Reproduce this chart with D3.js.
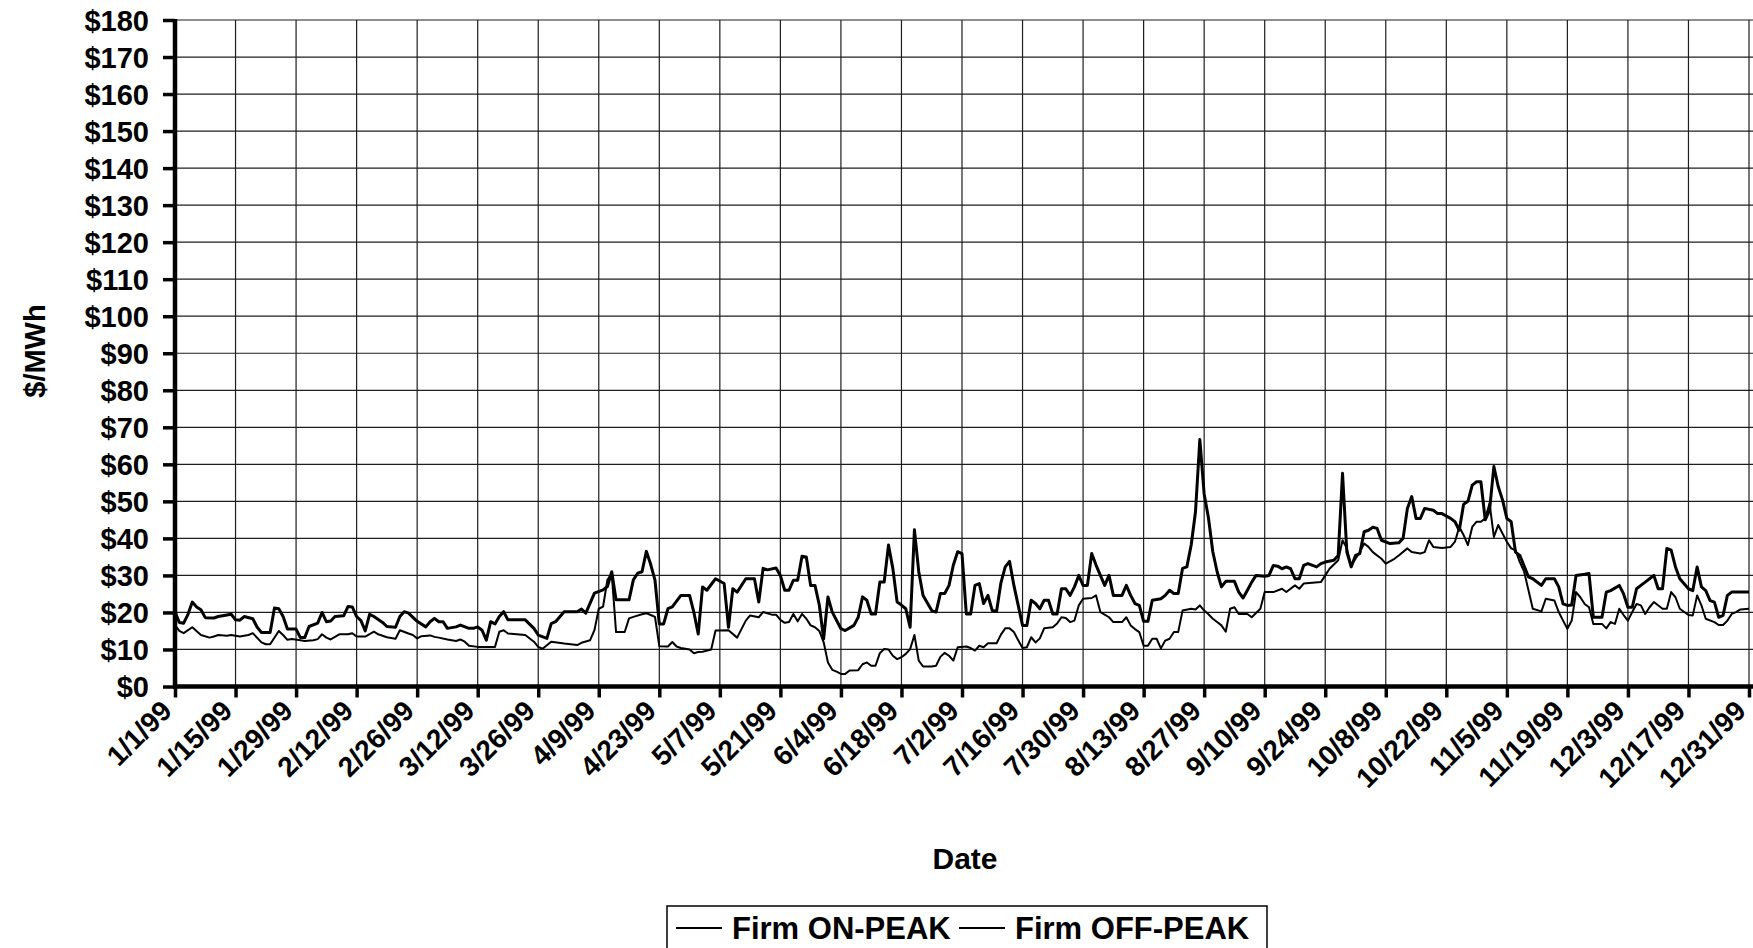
<!DOCTYPE html>
<html><head><meta charset="utf-8">
<script src="https://cdn.jsdelivr.net/npm/d3@7"></script>
<style>
body{margin:0;background:#fff}
svg{display:block}
text{font-family:"Liberation Sans",Arial,Helvetica,sans-serif;font-weight:bold;fill:#000}
</style>
</head><body>
<svg id="chart" width="1753" height="948"></svg>
<script>
// ---- data (day offset from 1/1/99, $/MWh) ----
const tickLabels = ["1/1/99","1/15/99","1/29/99","2/12/99","2/26/99","3/12/99","3/26/99","4/9/99","4/23/99","5/7/99","5/21/99","6/4/99","6/18/99","7/2/99","7/16/99","7/30/99","8/13/99","8/27/99","9/10/99","9/24/99","10/8/99","10/22/99","11/5/99","11/19/99","12/3/99","12/17/99","12/31/99"];
const yTickValues = [0,10,20,30,40,50,60,70,80,90,100,110,120,130,140,150,160,170,180];
const seriesNames = ["Firm ON-PEAK","Firm OFF-PEAK"];
const onPeak = [[0,20.2],[1,17.3],[2,17.1],[3,19.5],[4,22.8],[5,21.5],[6,20.7],[7,18.6],[9,18.5],[10,18.9],[13,19.5],[14,18],[15,17.9],[16,18.9],[18,18.3],[19,16],[20,14.6],[22,14.6],[23,21.2],[24,21],[25,18.9],[26,15.5],[28,15.5],[29,13.2],[30,13.2],[31,16.2],[33,17.1],[34,20],[35,17.5],[36,17.7],[37,18.9],[39,19.1],[40,21.6],[41,21.5],[42,18.9],[43,17.8],[44,15],[45,19.5],[46,18.9],[48,17.3],[49,16.2],[51,16],[52,18.9],[53,20.2],[54,19.8],[56,17.6],[58,16.1],[59,17.5],[60,18.4],[61,17.5],[62,17.5],[63,15.7],[65,16.1],[66,16.6],[68,15.7],[69,15.7],[70,16.1],[71,15.2],[72,12.5],[73,17.5],[74,16.9],[75,18.9],[76,20.2],[77,18],[81,18],[83,15.7],[84,13.9],[86,13],[87,17],[88,17.5],[90,20.2],[93,20.2],[94,20.9],[95,19.8],[96,22.5],[97,25.2],[99,26.1],[100,27],[101,31],[102,23.4],[105,23.4],[106,28.8],[107,30.6],[108,31],[109,36.5],[110,33],[111,28.7],[112,16.9],[113,16.9],[114,21],[115,21.5],[117,24.6],[119,24.6],[120,20],[121,14.2],[122,26.9],[123,26],[125,29.1],[127,27.8],[128,16],[129,26.4],[130,25.5],[132,29.1],[134,29.1],[135,22.8],[136,31.9],[137,31.5],[139,32],[140,30],[141,26],[142,26],[143,28.7],[144,28.7],[145,35.2],[146,35],[147,27.3],[148,27.3],[149,22],[150,12.9],[151,24.2],[152,20.1],[154,15.6],[155,15.1],[157,16.5],[158,18.7],[159,24.2],[160,23.3],[161,19.6],[162,19.6],[163,28.2],[164,28.2],[165,38.2],[166,31.9],[167,22.8],[168,22],[169,21],[170,16],[171,42.3],[172,31],[173,24.6],[175,20.5],[176,20.1],[177,25.1],[178,25.1],[179,27.3],[180,32.8],[181,36.4],[182,35.9],[183,19.6],[184,19.6],[185,27.3],[186,27.8],[187,22.4],[188,24.6],[189,20.5],[190,20.3],[191,28],[192,32.3],[193,33.8],[194,27.3],[195,21.9],[196,16.5],[197,16.5],[198,23.3],[199,22.4],[200,21],[201,23.3],[202,23.3],[203,19.6],[204,19.6],[205,26.4],[206,26.4],[207,24.6],[208,26.9],[209,30],[210,27.3],[211,27.3],[212,35.9],[213,32.8],[214,30],[215,27.3],[216,30],[217,24.6],[219,24.6],[220,27.3],[221,24.6],[222,22.4],[223,21.9],[224,17.6],[225,17.6],[226,23.3],[228,23.7],[229,24.6],[230,26],[231,25.1],[232,25.1],[233,31.9],[234,32.3],[235,38.2],[236,47.2],[237,66.7],[238,52],[239,45.5],[240,36.4],[241,31],[242,26.9],[243,28.4],[245,28.4],[246,25.5],[247,23.9],[248,26],[249,28.2],[250,30],[252,29.8],[253,30],[254,32.7],[255,32.5],[256,31.8],[257,32.3],[258,31.8],[259,29.1],[260,29.1],[261,32.7],[262,33.2],[264,32.3],[265,33.2],[266,33.6],[268,34.1],[269,35.4],[270,57.6],[271,36.3],[272,32.3],[273,35.4],[274,35.9],[275,41.8],[276,42.2],[277,43],[278,42.7],[279,39.5],[281,38.6],[283,38.8],[284,40],[285,48.1],[286,51.3],[287,45.4],[288,45.4],[289,48.1],[291,47.6],[292,46.7],[293,46.7],[295,45.4],[296,44.5],[297,42.2],[298,49.2],[299,50],[300,54.4],[301,55.3],[302,55.3],[303,45],[304,47.6],[305,59.4],[306,54],[307,50.4],[308,45.4],[309,44.5],[310,36.3],[311,35.4],[313,29.6],[314,29.1],[316,27.3],[317,29.1],[319,29.1],[320,26.9],[321,22.3],[322,21.9],[323,22],[324,30],[326,30.3],[327,30.5],[328,18.7],[330,18.7],[331,25.5],[332,25.9],[334,27.3],[335,25],[336,21.4],[337,21.4],[338,26.4],[339,27.3],[340,28.2],[341,29.1],[342,30],[343,26.4],[344,26.4],[345,37.3],[346,36.8],[347,32.3],[348,29.1],[350,26.4],[351,25.9],[352,32.3],[353,26.9],[354,25.9],[355,23.2],[356,22.8],[357,18.7],[358,19.2],[359,24.6],[360,25.5],[364,25.5]];
const offPeak = [[0,16.6],[1,15],[2,14.4],[4,16],[6,13.9],[8,13.2],[9,13.5],[10,13.9],[12,13.7],[13,13.9],[15,13.5],[17,13.9],[18,14.4],[20,11.9],[21,11.4],[22,11.4],[24,15],[25,13.9],[26,12.6],[27,12.8],[29,12.5],[30,12.3],[32,12.5],[33,12.8],[34,14.1],[35,13.2],[36,12.7],[38,14.1],[40,14.1],[41,14.4],[42,13.5],[44,13.5],[46,14.8],[47,14.1],[49,13.3],[51,12.9],[52,15.2],[54,14.3],[55,13.9],[56,13],[57,13.6],[59,13.8],[60,13.4],[61,13.2],[63,12.7],[65,12.3],[66,12.7],[67,12.1],[68,11],[70,10.7],[74,10.7],[75,14.8],[76,15.2],[77,14.3],[79,14.1],[81,13.9],[83,12.1],[84,10.7],[85,10.2],[87,12.1],[90,11.6],[93,11.2],[94,11.8],[96,12.5],[97,15.2],[98,21],[99,21.6],[100,28.8],[101,30.5],[102,14.7],[104,14.7],[105,18.4],[106,18.8],[108,19.5],[109,19.8],[110,19.3],[111,18.8],[112,10.9],[114,10.8],[115,12],[116,10.8],[117,10.4],[119,10],[120,9],[121,9.3],[122,9.4],[124,10],[125,15.1],[128,15.2],[130,13.2],[132,17.8],[133,19.2],[135,18.7],[136,20.1],[138,19.4],[139,19.4],[140,18],[141,17.2],[142,17.4],[143,19.6],[144,17.6],[145,19.6],[146,18.3],[147,16.5],[148,16],[149,15],[150,12],[151,6.5],[152,4.5],[153,4],[154,3.4],[155,3.4],[156,4.3],[158,4.4],[159,6],[160,6.5],[161,5.6],[162,5.6],[163,9],[164,10.1],[165,10],[166,8.3],[167,7.4],[168,7.9],[169,8.8],[170,10.1],[171,13.9],[172,7],[173,5.4],[175,5.4],[176,5.6],[177,8],[178,9.1],[179,8.3],[180,7],[181,10.6],[183,10.8],[184,10.4],[185,9.7],[186,11],[187,10.6],[188,11.7],[190,11.7],[191,14],[192,15.7],[193,15.7],[194,14.7],[195,12.5],[196,10.4],[197,10.6],[198,13.3],[199,11.9],[200,13],[201,15.7],[203,16],[204,17],[205,18.7],[206,18.5],[207,17.4],[208,17.8],[209,21.9],[210,23.7],[212,23.9],[213,24.6],[214,20.1],[216,18.7],[217,17.4],[219,17.4],[220,18.7],[221,16.5],[222,15.5],[223,14.7],[224,11],[225,11],[226,12.9],[227,12.9],[228,10.3],[229,12.4],[230,12.9],[231,14.7],[232,14.7],[233,20.5],[235,21],[236,20.8],[237,21.9],[238,20.5],[239,19.5],[240,18.3],[241,17.4],[242,16.5],[243,14.8],[244,21],[245,21.4],[246,19.6],[248,19.6],[249,18.7],[251,21],[252,25.5],[254,25.5],[256,26.4],[257,25.5],[259,27.3],[260,26.4],[261,27.8],[263,28],[265,28.2],[266,30],[267,31.8],[269,34.1],[270,39.5],[271,37.3],[272,32.7],[273,34.5],[274,36.3],[275,38.6],[276,37.7],[277,36.3],[279,34.5],[280,33.2],[282,34.5],[283,35.4],[285,37.3],[286,36.3],[288,35.9],[289,36.3],[290,39.5],[291,37.7],[293,37.4],[295,37.7],[296,39.1],[297,43.1],[298,40.9],[299,38.2],[300,43.1],[301,44.5],[302,44.5],[303,45.4],[304,49.5],[305,40.4],[306,43.6],[307,41.3],[308,39.1],[309,37.3],[310,36.8],[311,33.6],[312,31],[313,26],[314,21],[316,20.3],[317,23.7],[319,23.2],[320,20.1],[321,17.8],[322,15.6],[323,17.8],[324,25.5],[325,24.1],[326,22.3],[327,21.4],[328,16.9],[330,16.9],[331,15.7],[332,17.4],[333,16.9],[334,21],[335,19.3],[336,17.8],[337,20.1],[338,22.3],[339,21.9],[340,19.6],[341,21.4],[342,22.8],[344,21],[345,21],[346,25.5],[347,24.1],[348,21],[350,19.3],[351,19.2],[352,24.6],[353,21.9],[354,18.3],[356,17.4],[357,16.6],[358,16.6],[359,17.8],[360,19.6],[361,20.1],[362,20.8],[364,21]];

// ---- layout ----
const svg = d3.select("#chart");
const start = new Date(1999,0,1);
const parseTick = d3.timeParse("%m/%d/%y");
const tickDates = tickLabels.map(parseTick);
const xLeft = 175, xLast = 1749, xRight = 1753, yBottom = 686.5, yTop = 20;
const x = d3.scaleTime().domain([start, new Date(1999,11,31)]).range([xLeft, xLast]);
const y = d3.scaleLinear().domain([0,180]).range([yBottom, yTop]);
const fmt = d3.timeFormat("%-m/%-d/%y");

// horizontal grid
svg.append("g").selectAll("line").data(yTickValues.filter(v=>v>0)).join("line")
  .attr("x1", xLeft).attr("x2", xRight).attr("y1", d=>y(d)).attr("y2", d=>y(d))
  .attr("stroke","#1e1e1e").attr("stroke-width",1.2);
// vertical grid
svg.append("g").selectAll("line").data(tickDates.slice(1)).join("line")
  .attr("x1", d=>x(d)).attr("x2", d=>x(d)).attr("y1", y(0)).attr("y2", y(180))
  .attr("stroke","#1e1e1e").attr("stroke-width",1.2);

// y axis
const yAxis = d3.axisLeft(y).tickValues(yTickValues).tickSize(12).tickPadding(14)
  .tickFormat(d=>"$"+d);
const gy = svg.append("g").attr("transform",`translate(${xLeft},0)`).call(yAxis);
gy.select(".domain").remove();
gy.selectAll(".tick line").attr("stroke","#000").attr("stroke-width",3.5);
gy.selectAll(".tick text").attr("font-size",29).attr("dy","0.36em")
  .style("font-family",'"Liberation Sans",Arial,sans-serif').style("font-weight","bold");
svg.append("line").attr("x1",xLeft).attr("x2",xLeft).attr("y1",yTop-1).attr("y2",yBottom+2)
  .attr("stroke","#000").attr("stroke-width",4.5);

// x axis
const xAxis = d3.axisBottom(x).tickValues(tickDates).tickSize(11).tickFormat(fmt);
const gx = svg.append("g").attr("transform",`translate(0,${yBottom})`).call(xAxis);
gx.select(".domain").remove();
gx.selectAll(".tick line").attr("stroke","#000").attr("stroke-width",3.5);
gx.selectAll(".tick text").attr("font-size",28).attr("text-anchor","end")
  .attr("y",0).attr("dy",0)
  .attr("transform","translate(-2,26) rotate(-45)")
  .style("font-family",'"Liberation Sans",Arial,sans-serif').style("font-weight","bold");
svg.append("line").attr("x1",xLeft-2).attr("x2",xRight).attr("y1",yBottom).attr("y2",yBottom)
  .attr("stroke","#000").attr("stroke-width",4.5);

// series
const line = d3.line().x(d=>x(d3.timeDay.offset(start,d[0]))).y(d=>y(d[1]));
svg.append("path").datum(offPeak).attr("d",line).attr("fill","none")
  .attr("stroke","#000").attr("stroke-width",2).attr("stroke-linejoin","round");
svg.append("path").datum(onPeak).attr("d",line).attr("fill","none")
  .attr("stroke","#000").attr("stroke-width",3).attr("stroke-linejoin","round");

// axis titles
svg.append("text").attr("x",965).attr("y",869).attr("text-anchor","middle")
  .attr("font-size",30).text("Date");
svg.append("text").attr("transform","translate(45,351) rotate(-90)").attr("text-anchor","middle")
  .attr("font-size",29).text("$/MWh");

// legend
const lg = svg.append("g");
lg.append("rect").attr("x",667).attr("y",906).attr("width",600).attr("height",60)
  .attr("fill","none").attr("stroke","#000").attr("stroke-width",1.5);
const items = [{name:seriesNames[0], x:676},{name:seriesNames[1], x:959}];
items.forEach(it=>{
  lg.append("line").attr("x1",it.x).attr("x2",it.x+46).attr("y1",928).attr("y2",928)
    .attr("stroke","#000").attr("stroke-width",1.8);
  lg.append("text").attr("x",it.x+56).attr("y",939).attr("font-size",31).text(it.name);
});
</script>
</body></html>
